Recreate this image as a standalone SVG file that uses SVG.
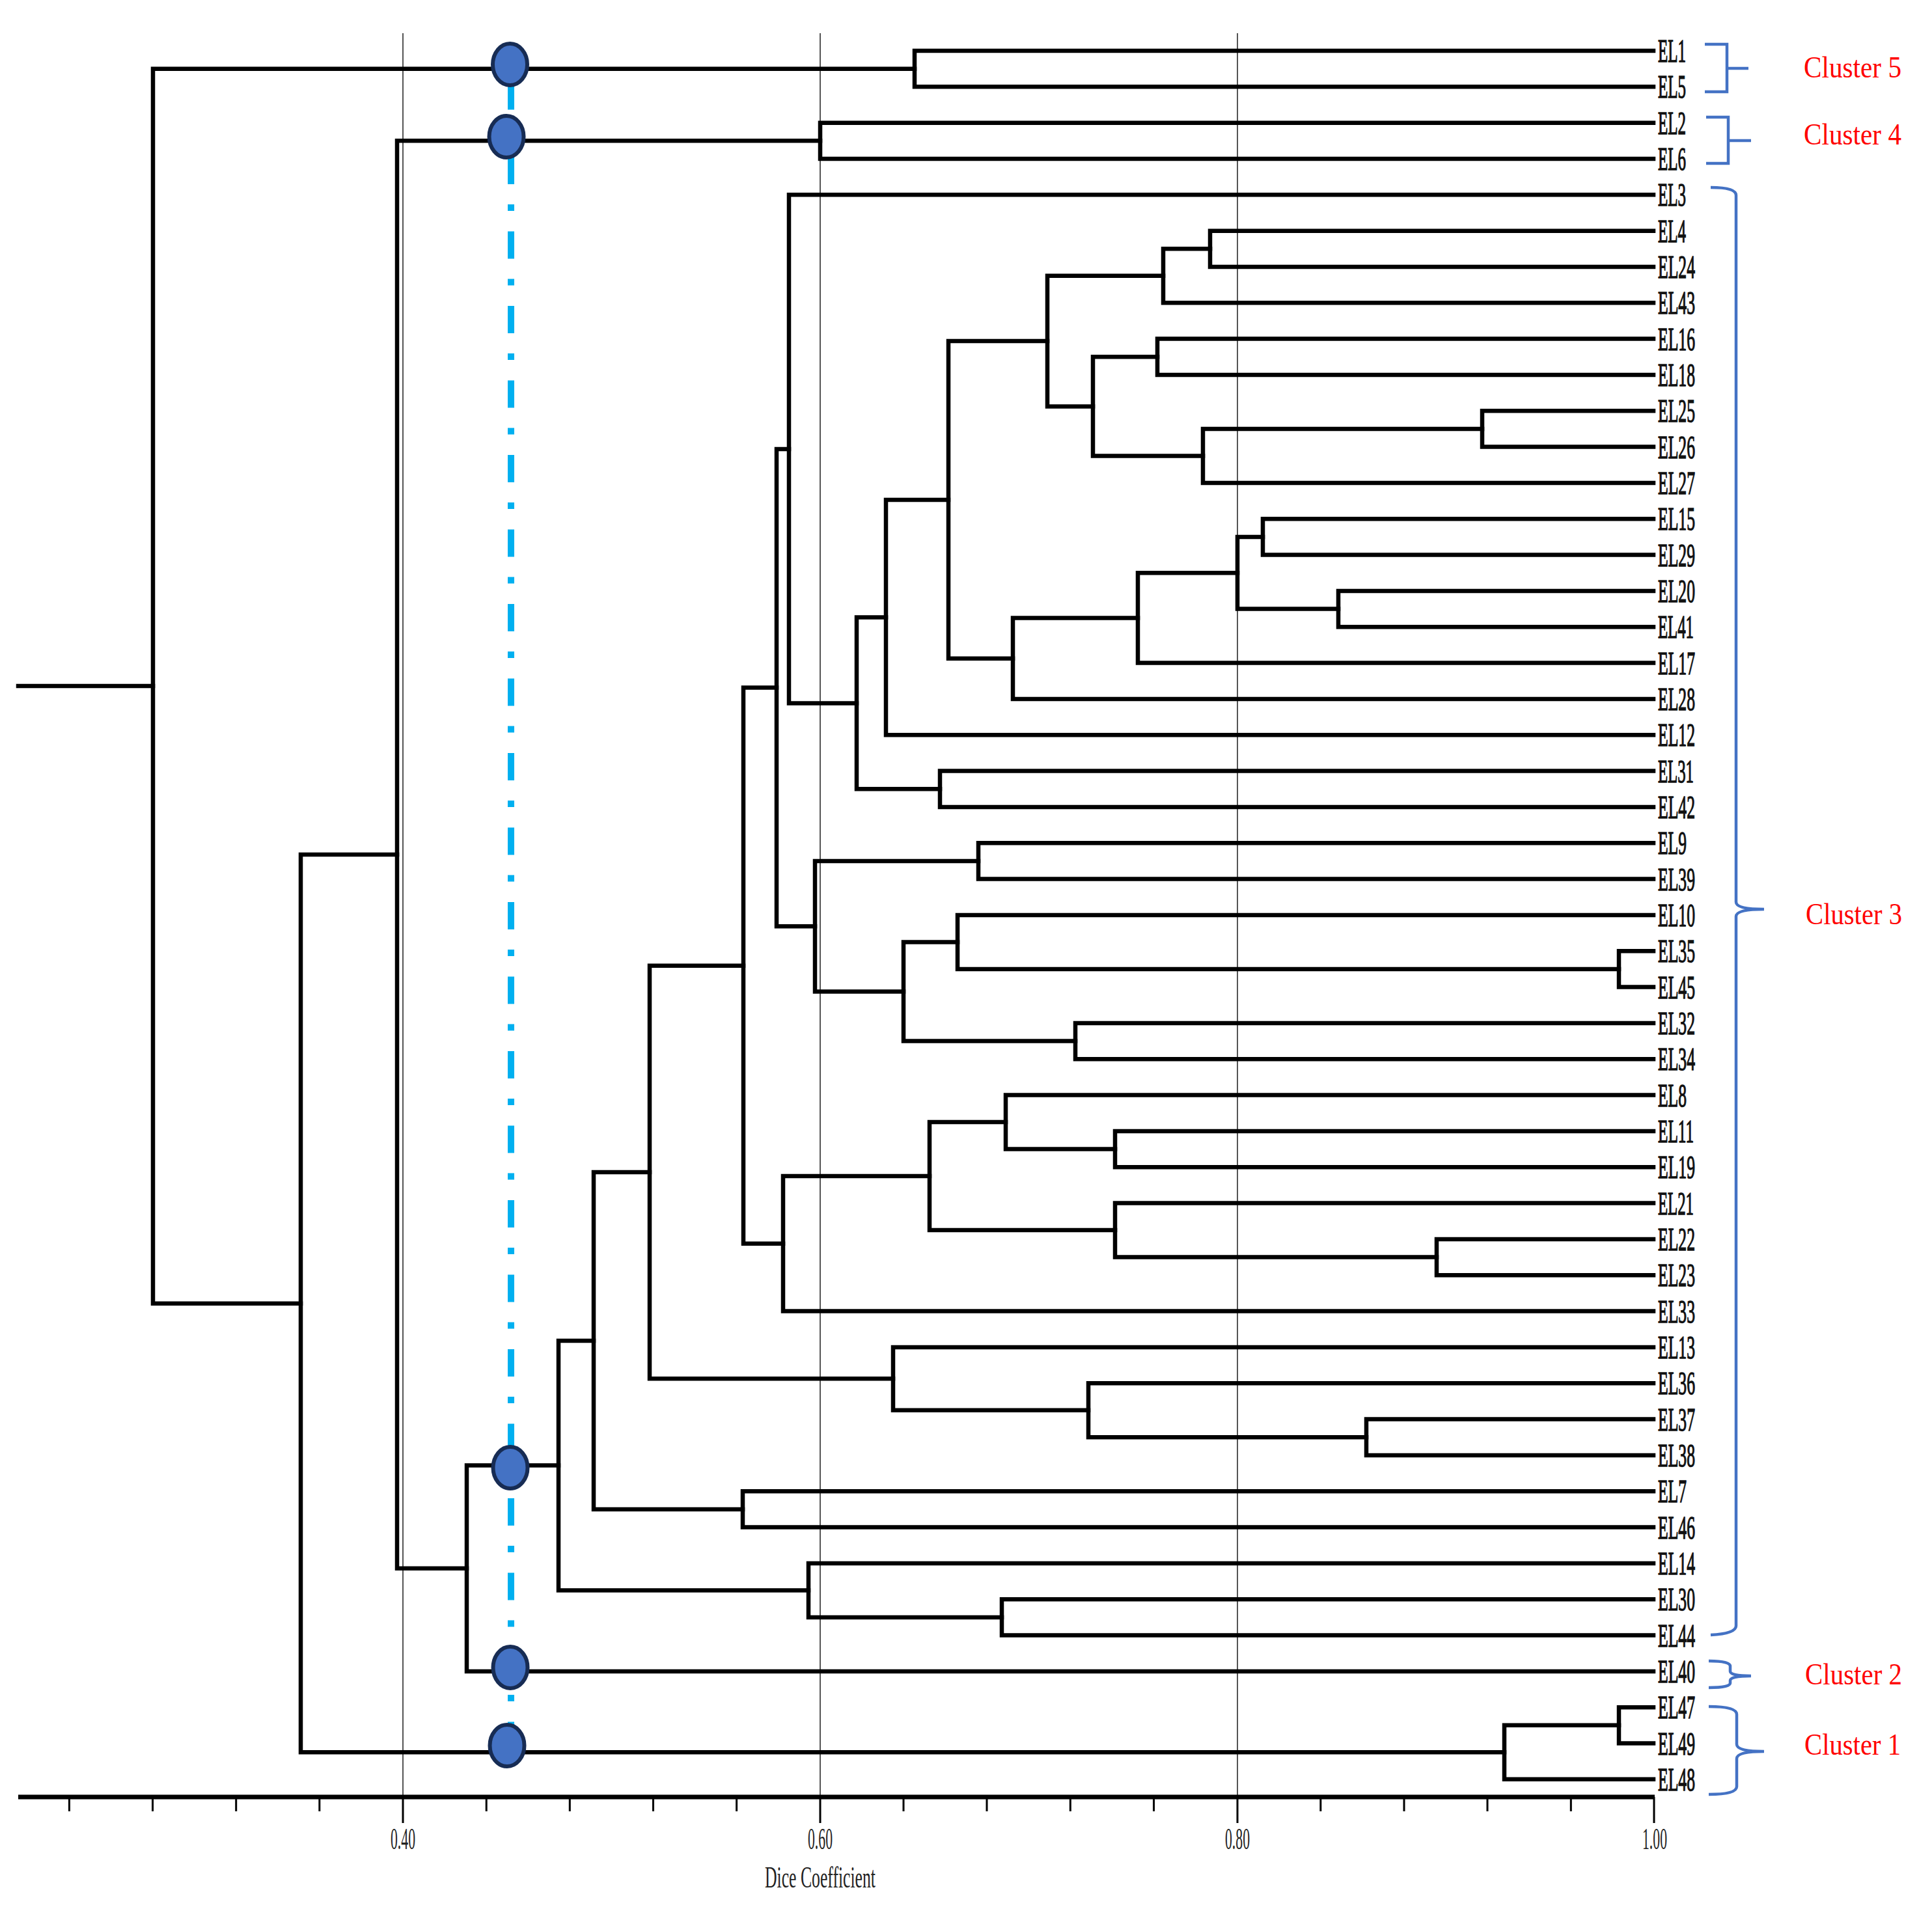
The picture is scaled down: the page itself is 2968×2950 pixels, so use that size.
<svg xmlns="http://www.w3.org/2000/svg" width="2968" height="2950" viewBox="0 0 2968 2950">
<style>
.bg{fill:#ffffff}
.grid{stroke:#555;stroke-width:2;fill:none}
.br{fill:none;stroke:#000;stroke-width:6.5;stroke-linejoin:miter;stroke-linecap:square}
.axis{stroke:#000;stroke-width:7;fill:none}
.tick{stroke:#000;stroke-width:3}
.lbl{font-family:"Liberation Serif","Times New Roman",serif;font-size:50px;fill:#111;stroke:#111;stroke-width:1.4}
.ax{font-family:"Liberation Serif","Times New Roman",serif;font-size:46px;fill:#222;text-anchor:middle}
.clu{font-family:"Liberation Serif","Times New Roman",serif;font-size:46px;fill:#ff0000}
.brk{fill:none;stroke:#4472C4;stroke-width:4.5}
.cut{fill:none;stroke:#00B0F0;stroke-width:10;stroke-dasharray:42 31 10 31.5;stroke-dashoffset:86}
.dot{fill:#4472C4;stroke:#172C54;stroke-width:6}
</style>
<rect class="bg" x="0" y="0" width="2968" height="2950"/>
<g id="grid">
<line class="grid" x1="619" y1="51" x2="619" y2="2761"/>
<line class="grid" x1="1260" y1="51" x2="1260" y2="2761"/>
<line class="grid" x1="1901" y1="51" x2="1901" y2="2761"/>
</g>
<g id="connectors">
<path class="br" d="M28 1054.1 H235"/>
<path id="n-root" class="br" d="M1405 105.7 H235 V2002.7 H462"/>
<path id="n-AU" class="br" d="M2540 78 H1405 V133.3 H2540"/>
<path id="n-AT" class="br" d="M610 1313 H462 V2692.3 H2311"/>
<path id="n-AQ" class="br" d="M1260 216.3 H610 V2409.8 H717"/>
<path id="n-AP" class="br" d="M2540 188.7 H1260 V244 H2540"/>
<path id="n-AO" class="br" d="M858 2251.6 H717 V2567.9 H2540"/>
<path id="n-AN" class="br" d="M912 2059.9 H858 V2443.4 H1242"/>
<path id="n-AM" class="br" d="M2540 2401.9 H1242 V2484.9 H1539"/>
<path id="n-AL" class="br" d="M2540 2457.2 H1539 V2512.5 H2540"/>
<path id="n-AK" class="br" d="M998 1801 H912 V2318.9 H1141"/>
<path id="n-AJ" class="br" d="M2540 2291.2 H1141 V2346.5 H2540"/>
<path id="n-AI" class="br" d="M1142 1483.7 H998 V2118.3 H1372"/>
<path id="n-AH" class="br" d="M2540 2069.9 H1372 V2166.7 H1672"/>
<path id="n-AG" class="br" d="M2540 2125.2 H1672 V2208.2 H2099"/>
<path id="n-AF" class="br" d="M2540 2180.5 H2099 V2235.9 H2540"/>
<path id="n-AE" class="br" d="M1193 1056.6 H1142 V1910.8 H1203"/>
<path id="n-AD" class="br" d="M1428 1807.1 H1203 V2014.6 H2540"/>
<path id="n-AC" class="br" d="M1545 1724.1 H1428 V1890.1 H1713"/>
<path id="n-AB" class="br" d="M2540 1848.6 H1713 V1931.6 H2207"/>
<path id="n-AA" class="br" d="M2540 1903.9 H2207 V1959.2 H2540"/>
<path id="n-Z" class="br" d="M2540 1682.6 H1545 V1765.6 H1713"/>
<path id="n-Y" class="br" d="M2540 1737.9 H1713 V1793.2 H2540"/>
<path id="n-X" class="br" d="M1212 689.9 H1193 V1423.2 H1252"/>
<path id="n-W" class="br" d="M1503 1322.9 H1252 V1523.5 H1388"/>
<path id="n-V" class="br" d="M1471 1447.4 H1388 V1599.6 H1652"/>
<path id="n-U" class="br" d="M2540 1571.9 H1652 V1627.2 H2540"/>
<path id="n-T" class="br" d="M2540 1405.9 H1471 V1489 H2487"/>
<path id="n-S" class="br" d="M2540 1461.3 H2487 V1516.6 H2540"/>
<path id="n-R" class="br" d="M2540 1295.3 H1503 V1350.6 H2540"/>
<path id="n-Q" class="br" d="M2540 299.3 H1212 V1080.4 H1316"/>
<path id="n-P" class="br" d="M1361 948.6 H1316 V1212.3 H1444"/>
<path id="n-O" class="br" d="M2540 1184.6 H1444 V1239.9 H2540"/>
<path id="n-N" class="br" d="M1457 767.9 H1361 V1129.3 H2540"/>
<path id="n-M" class="br" d="M1609 524.1 H1457 V1011.7 H1556"/>
<path id="n-L" class="br" d="M1748 949.5 H1556 V1073.9 H2540"/>
<path id="n-K" class="br" d="M1901 880.3 H1748 V1018.6 H2540"/>
<path id="n-J" class="br" d="M1940 825 H1901 V935.6 H2056"/>
<path id="n-I" class="br" d="M2540 908 H2056 V963.3 H2540"/>
<path id="n-H" class="br" d="M2540 797.3 H1940 V852.6 H2540"/>
<path id="n-G" class="br" d="M1787 423.8 H1609 V624.4 H1679"/>
<path id="n-F" class="br" d="M1778 548.3 H1679 V700.5 H1848"/>
<path id="n-E" class="br" d="M2277 659 H1848 V742 H2540"/>
<path id="n-D" class="br" d="M2540 631.3 H2277 V686.6 H2540"/>
<path id="n-C" class="br" d="M2540 520.6 H1778 V576 H2540"/>
<path id="n-B" class="br" d="M1859 382.3 H1787 V465.3 H2540"/>
<path id="n-A" class="br" d="M2540 354.7 H1859 V410 H2540"/>
<path id="n-AS" class="br" d="M2487 2650.8 H2311 V2733.8 H2540"/>
<path id="n-AR" class="br" d="M2540 2623.2 H2487 V2678.5 H2540"/>
</g>
<g id="axis">
<line class="axis" x1="28" y1="2761" x2="2542" y2="2761"/>
<g class="tick">
<line x1="106.4" y1="2761" x2="106.4" y2="2783"/>
<line x1="234.5" y1="2761" x2="234.5" y2="2783"/>
<line x1="362.7" y1="2761" x2="362.7" y2="2783"/>
<line x1="490.8" y1="2761" x2="490.8" y2="2783"/>
<line x1="619" y1="2761" x2="619" y2="2801"/>
<line x1="747.2" y1="2761" x2="747.2" y2="2783"/>
<line x1="875.3" y1="2761" x2="875.3" y2="2783"/>
<line x1="1003.5" y1="2761" x2="1003.5" y2="2783"/>
<line x1="1131.6" y1="2761" x2="1131.6" y2="2783"/>
<line x1="1260" y1="2761" x2="1260" y2="2801"/>
<line x1="1388" y1="2761" x2="1388" y2="2783"/>
<line x1="1516" y1="2761" x2="1516" y2="2783"/>
<line x1="1644.3" y1="2761" x2="1644.3" y2="2783"/>
<line x1="1772.5" y1="2761" x2="1772.5" y2="2783"/>
<line x1="1901" y1="2761" x2="1901" y2="2801"/>
<line x1="2028.8" y1="2761" x2="2028.8" y2="2783"/>
<line x1="2157" y1="2761" x2="2157" y2="2783"/>
<line x1="2285" y1="2761" x2="2285" y2="2783"/>
<line x1="2413.3" y1="2761" x2="2413.3" y2="2783"/>
<line x1="2541" y1="2761" x2="2541" y2="2801"/>
</g>
<text class="ax" x="619" y="2841" textLength="38" lengthAdjust="spacingAndGlyphs">0.40</text>
<text class="ax" x="1260" y="2841" textLength="38" lengthAdjust="spacingAndGlyphs">0.60</text>
<text class="ax" x="1901" y="2841" textLength="38" lengthAdjust="spacingAndGlyphs">0.80</text>
<text class="ax" x="2542" y="2841" textLength="38" lengthAdjust="spacingAndGlyphs">1.00</text>
<text class="ax" x="1260" y="2900" textLength="170" lengthAdjust="spacingAndGlyphs">Dice Coefficient</text>
</g>
<g id="leaves">
<text class="lbl" x="2547" y="95" textLength="43" lengthAdjust="spacingAndGlyphs">EL1</text>
<text class="lbl" x="2547" y="150.3" textLength="43" lengthAdjust="spacingAndGlyphs">EL5</text>
<text class="lbl" x="2547" y="205.7" textLength="43" lengthAdjust="spacingAndGlyphs">EL2</text>
<text class="lbl" x="2547" y="261" textLength="43" lengthAdjust="spacingAndGlyphs">EL6</text>
<text class="lbl" x="2547" y="316.3" textLength="43" lengthAdjust="spacingAndGlyphs">EL3</text>
<text class="lbl" x="2547" y="371.7" textLength="43" lengthAdjust="spacingAndGlyphs">EL4</text>
<text class="lbl" x="2547" y="427" textLength="57" lengthAdjust="spacingAndGlyphs">EL24</text>
<text class="lbl" x="2547" y="482.3" textLength="57" lengthAdjust="spacingAndGlyphs">EL43</text>
<text class="lbl" x="2547" y="537.6" textLength="57" lengthAdjust="spacingAndGlyphs">EL16</text>
<text class="lbl" x="2547" y="593" textLength="57" lengthAdjust="spacingAndGlyphs">EL18</text>
<text class="lbl" x="2547" y="648.3" textLength="57" lengthAdjust="spacingAndGlyphs">EL25</text>
<text class="lbl" x="2547" y="703.6" textLength="57" lengthAdjust="spacingAndGlyphs">EL26</text>
<text class="lbl" x="2547" y="759" textLength="57" lengthAdjust="spacingAndGlyphs">EL27</text>
<text class="lbl" x="2547" y="814.3" textLength="57" lengthAdjust="spacingAndGlyphs">EL15</text>
<text class="lbl" x="2547" y="869.6" textLength="57" lengthAdjust="spacingAndGlyphs">EL29</text>
<text class="lbl" x="2547" y="925" textLength="57" lengthAdjust="spacingAndGlyphs">EL20</text>
<text class="lbl" x="2547" y="980.3" textLength="55" lengthAdjust="spacingAndGlyphs">EL41</text>
<text class="lbl" x="2547" y="1035.6" textLength="57" lengthAdjust="spacingAndGlyphs">EL17</text>
<text class="lbl" x="2547" y="1090.9" textLength="57" lengthAdjust="spacingAndGlyphs">EL28</text>
<text class="lbl" x="2547" y="1146.3" textLength="57" lengthAdjust="spacingAndGlyphs">EL12</text>
<text class="lbl" x="2547" y="1201.6" textLength="55" lengthAdjust="spacingAndGlyphs">EL31</text>
<text class="lbl" x="2547" y="1256.9" textLength="57" lengthAdjust="spacingAndGlyphs">EL42</text>
<text class="lbl" x="2547" y="1312.3" textLength="44" lengthAdjust="spacingAndGlyphs">EL9</text>
<text class="lbl" x="2547" y="1367.6" textLength="57" lengthAdjust="spacingAndGlyphs">EL39</text>
<text class="lbl" x="2547" y="1422.9" textLength="57" lengthAdjust="spacingAndGlyphs">EL10</text>
<text class="lbl" x="2547" y="1478.3" textLength="57" lengthAdjust="spacingAndGlyphs">EL35</text>
<text class="lbl" x="2547" y="1533.6" textLength="57" lengthAdjust="spacingAndGlyphs">EL45</text>
<text class="lbl" x="2547" y="1588.9" textLength="57" lengthAdjust="spacingAndGlyphs">EL32</text>
<text class="lbl" x="2547" y="1644.2" textLength="57" lengthAdjust="spacingAndGlyphs">EL34</text>
<text class="lbl" x="2547" y="1699.6" textLength="44" lengthAdjust="spacingAndGlyphs">EL8</text>
<text class="lbl" x="2547" y="1754.9" textLength="55" lengthAdjust="spacingAndGlyphs">EL11</text>
<text class="lbl" x="2547" y="1810.2" textLength="57" lengthAdjust="spacingAndGlyphs">EL19</text>
<text class="lbl" x="2547" y="1865.6" textLength="55" lengthAdjust="spacingAndGlyphs">EL21</text>
<text class="lbl" x="2547" y="1920.9" textLength="57" lengthAdjust="spacingAndGlyphs">EL22</text>
<text class="lbl" x="2547" y="1976.2" textLength="57" lengthAdjust="spacingAndGlyphs">EL23</text>
<text class="lbl" x="2547" y="2031.6" textLength="57" lengthAdjust="spacingAndGlyphs">EL33</text>
<text class="lbl" x="2547" y="2086.9" textLength="57" lengthAdjust="spacingAndGlyphs">EL13</text>
<text class="lbl" x="2547" y="2142.2" textLength="57" lengthAdjust="spacingAndGlyphs">EL36</text>
<text class="lbl" x="2547" y="2197.5" textLength="57" lengthAdjust="spacingAndGlyphs">EL37</text>
<text class="lbl" x="2547" y="2252.9" textLength="57" lengthAdjust="spacingAndGlyphs">EL38</text>
<text class="lbl" x="2547" y="2308.2" textLength="44" lengthAdjust="spacingAndGlyphs">EL7</text>
<text class="lbl" x="2547" y="2363.5" textLength="57" lengthAdjust="spacingAndGlyphs">EL46</text>
<text class="lbl" x="2547" y="2418.9" textLength="57" lengthAdjust="spacingAndGlyphs">EL14</text>
<text class="lbl" x="2547" y="2474.2" textLength="57" lengthAdjust="spacingAndGlyphs">EL30</text>
<text class="lbl" x="2547" y="2529.5" textLength="57" lengthAdjust="spacingAndGlyphs">EL44</text>
<text class="lbl" x="2547" y="2584.9" textLength="57" lengthAdjust="spacingAndGlyphs">EL40</text>
<text class="lbl" x="2547" y="2640.2" textLength="57" lengthAdjust="spacingAndGlyphs">EL47</text>
<text class="lbl" x="2547" y="2695.5" textLength="57" lengthAdjust="spacingAndGlyphs">EL49</text>
<text class="lbl" x="2547" y="2750.8" textLength="57" lengthAdjust="spacingAndGlyphs">EL48</text>
</g>
<g id="cluster-5">
<path class="brk" d="M2619 68 H2653 V141 H2619 M2653 105 H2686"/>
<text class="clu" x="2771" y="119" textLength="150" lengthAdjust="spacingAndGlyphs">Cluster 5</text>
</g>
<g id="cluster-4">
<path class="brk" d="M2621 180 H2655 V251 H2621 M2655 216 H2690"/>
<text class="clu" x="2771" y="222" textLength="150" lengthAdjust="spacingAndGlyphs">Cluster 4</text>
</g>
<g id="cluster-3">
<path class="brk" d="M2628 288 Q2667 288 2667 300 V1386 Q2667 1397 2710 1397 Q2667 1397 2667 1408 V2498 Q2667 2510 2628 2512"/>
<text class="clu" x="2774" y="1420" textLength="148" lengthAdjust="spacingAndGlyphs">Cluster 3</text>
</g>
<g id="cluster-2">
<path class="brk" d="M2625 2552 Q2658 2552 2658 2560 V2568 Q2658 2575 2690 2575 Q2658 2575 2658 2582 V2586 Q2658 2593 2625 2593"/>
<text class="clu" x="2773" y="2588" textLength="149" lengthAdjust="spacingAndGlyphs">Cluster 2</text>
</g>
<g id="cluster-1">
<path class="brk" d="M2625 2622 Q2668 2622 2668 2634 V2680 Q2668 2691 2710 2691 Q2668 2691 2668 2702 V2745 Q2668 2757 2625 2757"/>
<text class="clu" x="2772" y="2696" textLength="148" lengthAdjust="spacingAndGlyphs">Cluster 1</text>
</g>
<g id="cut-line">
<line class="cut" x1="785" y1="98" x2="785" y2="2682"/>
</g>
<g id="dot-1"><ellipse class="dot" cx="783.5" cy="99" rx="26.5" ry="32"/></g>
<g id="dot-2"><ellipse class="dot" cx="778" cy="210" rx="26.5" ry="32"/></g>
<g id="dot-3"><ellipse class="dot" cx="784" cy="2255" rx="26.5" ry="32"/></g>
<g id="dot-4"><ellipse class="dot" cx="784" cy="2562" rx="26.5" ry="32"/></g>
<g id="dot-5"><ellipse class="dot" cx="779" cy="2682" rx="26.5" ry="32"/></g>
</svg>
